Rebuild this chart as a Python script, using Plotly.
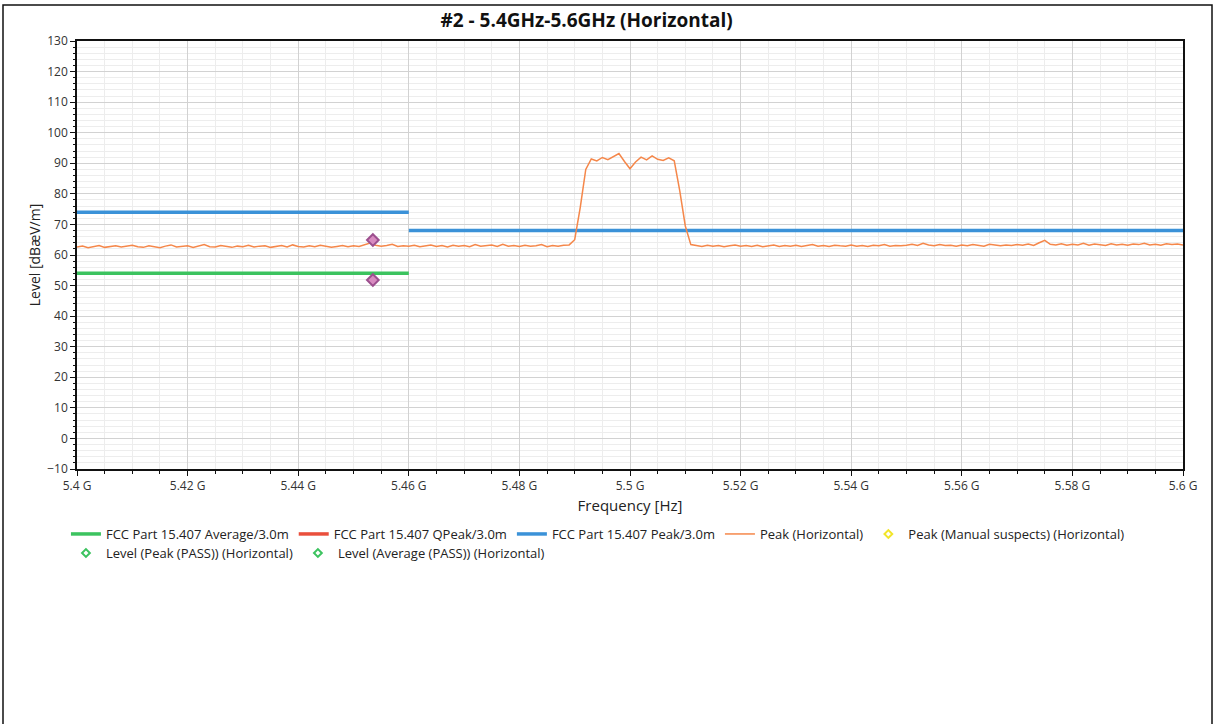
import plotly.graph_objects as go

# ---------------- data ----------------
f_start_ghz = 5.400
f_step_ghz = 0.001
peak_level = [
    62.6, 62.9, 62.4, 62.8, 63.1, 62.5, 62.7, 63.0, 62.6, 62.9,
    63.2, 62.7, 62.5, 63.0, 62.8, 62.4, 62.9, 63.3, 62.6, 62.8,
    63.0, 62.5, 62.9, 63.4, 62.7, 62.6, 63.1, 62.8, 62.5, 62.9,
    62.7, 63.2, 62.6, 62.9, 63.0, 62.5, 62.8, 63.1, 62.6, 63.3,
    62.8, 62.6, 63.0, 62.7, 63.2, 62.9, 62.5, 62.8, 63.1, 62.7,
    63.0, 62.8, 63.4, 63.9, 63.2, 62.9, 63.1, 63.5, 62.8, 63.0,
    62.9, 63.2, 62.7, 63.0, 63.3, 62.8, 63.1, 62.6, 63.2, 62.9,
    63.1, 62.7, 63.4, 62.9, 63.0, 63.3, 62.8, 63.5, 62.9, 63.1,
    62.8, 63.2, 62.9, 63.0, 63.4, 62.7, 63.1, 62.9, 63.2, 63.3,
    65.0, 75.5, 88.0, 91.4, 90.8, 91.9, 91.2, 92.3, 93.2, 90.6,
    88.2, 90.4, 92.0, 91.1, 92.4, 91.3, 90.9, 91.8, 90.8, 81.0,
    69.5, 63.4, 63.0, 62.8, 63.2, 62.9, 63.1, 62.7, 63.0, 63.3,
    62.9, 63.1, 62.8, 63.2, 62.7, 63.0, 63.3, 62.8, 63.1, 62.9,
    63.2, 62.8, 63.0, 63.4, 62.9, 63.1, 62.8, 63.2, 63.0, 62.9,
    63.3, 62.9, 63.1, 62.8, 63.2, 63.0, 63.4, 62.9, 63.1, 63.0,
    63.2, 63.5, 63.1, 63.8, 63.3, 63.0, 63.4, 63.1, 63.2, 62.9,
    63.3, 63.0, 63.4, 63.1, 62.9, 63.5, 63.2, 63.0, 63.3, 63.1,
    63.4, 63.2, 63.6, 63.1, 64.0, 64.8, 63.5, 63.3, 63.7, 63.2,
    63.5, 63.3, 63.8, 63.2, 63.6, 63.4, 63.1, 63.7, 63.3, 63.5,
    63.2, 63.6, 63.4, 63.8, 63.3, 63.5, 63.2, 63.7, 63.4, 63.6,
    63.3,
]
peak_freq = [(f_start_ghz + i * f_step_ghz) * 1e9 for i in range(len(peak_level))]

avg_limit_freq = [5.40e9, 5.46e9]
avg_limit_level = [54, 54]
peak_limit_freq = [5.40e9, 5.46e9, None, 5.46e9, 5.60e9]
peak_limit_level = [74, 74, None, 68, 68]

suspect_freq = [5.4535e9]
level_peak_pass = [64.9]
level_avg_pass = [51.8]

tick_vals = [5.40e9, 5.42e9, 5.44e9, 5.46e9, 5.48e9, 5.50e9, 5.52e9, 5.54e9, 5.56e9, 5.58e9, 5.60e9]
tick_text = ["5.4 G", "5.42 G", "5.44 G", "5.46 G", "5.48 G", "5.5 G", "5.52 G", "5.54 G", "5.56 G", "5.58 G", "5.6 G"]

# ---------------- colours ----------------
GREEN = "#3cc35f"
RED = "#ea4f3c"
BLUE = "#3b92d8"
ORANGE = "#f5874a"
YELLOW = "#f2e52a"
FONT = "Open Sans"

fig = go.Figure()

fig.add_trace(go.Scatter(x=avg_limit_freq, y=avg_limit_level, mode="lines",
                         line=dict(color=GREEN, width=3.5),
                         name="FCC Part 15.407 Average/3.0m"))
fig.add_trace(go.Scatter(x=[None], y=[None], mode="lines",
                         line=dict(color=RED, width=3.5),
                         name="FCC Part 15.407 QPeak/3.0m"))
fig.add_trace(go.Scatter(x=peak_limit_freq, y=peak_limit_level, mode="lines",
                         line=dict(color=BLUE, width=3.5), connectgaps=False,
                         name="FCC Part 15.407 Peak/3.0m"))
fig.add_trace(go.Scatter(x=peak_freq, y=peak_level, mode="lines",
                         line=dict(color=ORANGE, width=1.5),
                         name="Peak (Horizontal)"))
fig.add_trace(go.Scatter(x=[None], y=[None], mode="markers",
                         marker=dict(symbol="diamond-open", color=YELLOW, size=6,
                                     line=dict(width=2, color=YELLOW)),
                         name="Peak (Manual suspects) (Horizontal)"))
fig.add_trace(go.Scatter(x=[None], y=[None], mode="markers", legend="legend2",
                         marker=dict(symbol="diamond-open", color=GREEN, size=6,
                                     line=dict(width=2, color=GREEN)),
                         name="Level (Peak (PASS)) (Horizontal)"))
fig.add_trace(go.Scatter(x=[None], y=[None], mode="markers", legend="legend2",
                         marker=dict(symbol="diamond-open", color=GREEN, size=6,
                                     line=dict(width=2, color=GREEN)),
                         name="Level (Average (PASS)) (Horizontal)"))
# plotted suspects (purple diamonds)
fig.add_trace(go.Scatter(x=suspect_freq + suspect_freq, y=level_peak_pass + level_avg_pass,
                         mode="markers", showlegend=False,
                         marker=dict(symbol="diamond", color="#d88bc0", size=9,
                                     line=dict(width=2, color="#9c4f8e"))))

# outer frame
fig.add_shape(type="rect", xref="paper", yref="paper",
              x0=(3 - 77) / 1106, x1=(1212 - 77) / 1106,
              y0=(469 - 740) / 428, y1=(469 - 5) / 428,
              line=dict(color="#111111", width=1.5), layer="below")

axis_common = dict(showline=True, linecolor="#111111", linewidth=1.5, mirror=True,
                   ticks="outside", ticklen=5, tickcolor="#111111",
                   gridcolor="#d2d2d2", gridwidth=1, zeroline=False,
                   tickfont=dict(family=FONT, size=12, color="#333333"))

legend_common = dict(orientation="h", xanchor="left", yanchor="top",
                     font=dict(family=FONT, size=13, color="#222222"),
                     itemwidth=30, tracegroupgap=0, bgcolor="rgba(0,0,0,0)")

fig.update_layout(
    width=1215, height=724,
    margin=dict(l=77, r=32, t=41, b=255),
    paper_bgcolor="white", plot_bgcolor="white",
    font=dict(family=FONT, size=12, color="#222222"),
    title=dict(text="<b>#2 - 5.4GHz-5.6GHz (Horizontal)</b>", x=(611 - 77) / 1106, xanchor="center",
               y=1 - 20 / 724, yanchor="middle",
               font=dict(family=FONT, size=19, color="#111111")),
    xaxis=dict(range=[5.40e9, 5.60e9], tickvals=tick_vals, ticktext=tick_text,
               title=dict(text="Frequency [Hz]", standoff=7,
                          font=dict(family=FONT, size=15, color="#222222")),
               minor=dict(dtick=5e6, tick0=5.4e9, ticks="outside", ticklen=3,
                          tickcolor="#111111", showgrid=True, gridcolor="#ededed"),
               **axis_common),
    yaxis=dict(range=[-10, 130], dtick=10, tick0=0,
               title=dict(text="Level [dBæV/m]", standoff=3,
                          font=dict(family=FONT, size=14, color="#222222")),
               minor=dict(dtick=2, ticks="outside", ticklen=2,
                          tickcolor="#111111", showgrid=True, gridcolor="#ededed"),
               **axis_common),
    legend=dict(x=-0.01, y=(469 - 519) / 428, **legend_common),
    legend2=dict(x=-0.01, y=(469 - 538) / 428, **legend_common),
    showlegend=True,
)

fig.write_html("out.html")
